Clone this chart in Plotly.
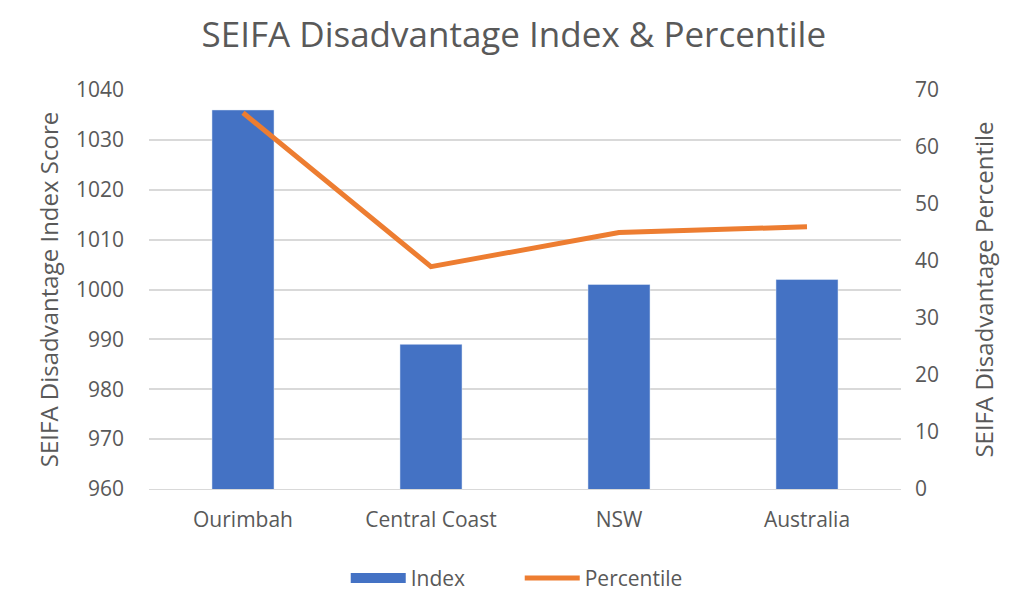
import plotly.graph_objects as go

categories = ["Ourimbah", "Central Coast", "NSW", "Australia"]
index_scores = [1036, 989, 1001, 1002]
percentiles = [66, 39, 45, 46]

grey = "#595959"
font_family = "Open Sans, Liberation Sans, sans-serif"

fig = go.Figure()
fig.add_trace(go.Bar(x=categories, y=index_scores, name="Index",
                     marker=dict(color="#4472C4"), width=0.33, yaxis="y",
                     showlegend=False, legendgroup="idx"))
# legend-only entry to render a wide rectangle swatch like the original
fig.add_trace(go.Scatter(x=[None], y=[None], name="Index", mode="lines",
                         line=dict(color="#4472C4", width=15), legendgroup="idx"))
fig.add_trace(go.Scatter(x=categories, y=percentiles, name="Percentile",
                         mode="lines", line=dict(color="#ED7D31", width=5),
                         yaxis="y2"))

fig.update_layout(
    width=1026, height=591,
    margin=dict(l=141, r=133, t=82, b=110),
    paper_bgcolor="white", plot_bgcolor="white",
    font=dict(family=font_family, color=grey, size=20),
    title=dict(text="SEIFA Disadvantage Index & Percentile", x=0.493, xanchor="center",
               y=0.955, yanchor="middle", font=dict(size=35, color=grey, family=font_family)),
    xaxis=dict(showline=True, linecolor="#d9d9d9", linewidth=1, ticks="",
               ticklabelstandoff=12, automargin=False,
               tickfont=dict(size=21, color=grey)),
    yaxis=dict(range=[960, 1040], dtick=10, showgrid=True, gridcolor="#d9d9d9",
               gridwidth=1.5, zeroline=False, ticks="", ticklabelstandoff=24,
               automargin=False,
               title=dict(text="SEIFA Disadvantage Index Score", font=dict(size=24, color=grey), standoff=10),
               tickfont=dict(size=21, color=grey)),
    yaxis2=dict(range=[0, 70], dtick=10, overlaying="y", side="right", showgrid=False,
                zeroline=False, ticks="", ticklabelstandoff=13, automargin=False,
                title=dict(text="SEIFA Disadvantage Percentile", font=dict(size=24, color=grey), standoff=38),
                tickfont=dict(size=21, color=grey)),
    legend=dict(orientation="h", x=0.493, xanchor="center", yref="container",
                y=0.035, yanchor="middle",
                itemwidth=55, entrywidth=104,
                font=dict(size=21, color=grey)),
    bargap=0.67,
)

fig.write_html("out.html")
